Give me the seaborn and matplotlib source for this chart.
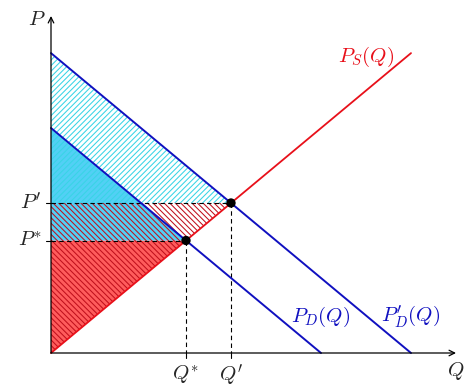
import matplotlib
matplotlib.use("Agg")
import matplotlib.pyplot as plt
import seaborn as sns
import pandas as pd

sns.set_style("white")
plt.rcParams["mathtext.fontset"] = "cm"
plt.rcParams["hatch.linewidth"] = 0.75

# ---- data ----
q_supply = [0.0, 10.0]
p_supply = [0.0, 8.33]
q_demand = [0.0, 7.5]
p_demand = [6.25, 0.0]
q_demand2 = [0.0, 10.0]
p_demand2 = [8.33, 0.0]
q_eq = [3.75, 5.0]      # Q*, Q'
p_eq = [3.125, 4.167]   # P*, P'
q_labels = [r"$Q^{*}$", r"$Q'$"]
p_labels = [r"$P^{*}$", r"$P'$"]
curve_labels = [r"$P_S(Q)$", r"$P_D(Q)$", r"$P^{\prime}_{D}(Q)$"]

BLUE = "#1010c0"
RED = "#e8101a"
CYAN_FILL = "#52d0f5"
RED_FILL = "#ff5c5c"

fig = plt.figure(figsize=(4.72, 3.92), dpi=100)
ax = fig.add_axes([0, 0, 1, 1])
px = 36.0
ax.set_xlim(-51 / px, (472 - 51) / px)
ax.set_ylim(-(392 - 353) / px, 353 / px)
ax.axis("off")

# surplus regions
ax.fill([0, q_eq[0], 0], [0, p_eq[0], p_eq[0]], color=RED_FILL, lw=0, zorder=1)
ax.fill([0, q_eq[0], 0], [p_demand[0], p_eq[0], p_eq[0]], color=CYAN_FILL, lw=0, zorder=1)
ax.fill([0, q_eq[1], 0], [p_demand2[0], p_eq[1], p_eq[1]], facecolor="none",
        edgecolor="#38d4e6", hatch="//////", lw=0, zorder=2)
ax.fill([0, q_eq[1], 0], [0, p_eq[1], p_eq[1]], facecolor="none",
        edgecolor="#c0101c", hatch="\\\\\\\\\\\\", lw=0, zorder=2)

# dashed guide lines
for q, p in zip(q_eq, p_eq):
    ax.plot([0, q], [p, p], ls=(0, (4, 3)), color="black", lw=0.8, zorder=3)
    ax.plot([q, q], [p, 0], ls=(0, (4, 3)), color="black", lw=0.8, zorder=3)
    ax.plot([q, q], [0, -5 / px], color="black", lw=0.8, zorder=3)
    ax.plot([-5 / px, 0], [p, p], color="black", lw=0.8, zorder=3)

# curves
df_s = pd.DataFrame({"Q": q_supply, "P": p_supply})
df_d = pd.DataFrame({"Q": q_demand, "P": p_demand})
df_d2 = pd.DataFrame({"Q": q_demand2, "P": p_demand2})
sns.lineplot(data=df_s, x="Q", y="P", ax=ax, color=RED, lw=1.3, zorder=4)
sns.lineplot(data=df_d, x="Q", y="P", ax=ax, color=BLUE, lw=1.4, zorder=4)
sns.lineplot(data=df_d2, x="Q", y="P", ax=ax, color=BLUE, lw=1.4, zorder=4)

# equilibrium points
df_eq = pd.DataFrame({"Q": q_eq, "P": p_eq})
sns.scatterplot(data=df_eq, x="Q", y="P", ax=ax, color="black", s=45,
                edgecolor="none", zorder=5)

# axes with arrows
ax.annotate("", xy=((456 - 51) / px, 0), xytext=(0, 0),
            arrowprops=dict(arrowstyle="->", lw=0.9, color="black",
                            shrinkA=0, shrinkB=0), zorder=6)
ax.annotate("", xy=(0, (353 - 16) / px), xytext=(0, 0),
            arrowprops=dict(arrowstyle="->", lw=0.9, color="black",
                            shrinkA=0, shrinkB=0), zorder=6)

fs = 15
ax.text((37 - 51) / px, (353 - 19) / px, r"$P$", fontsize=fs, ha="center", va="center")
ax.text((456 - 51) / px, (353 - 371) / px, r"$Q$", fontsize=fs, ha="center", va="center")
for q, lab in zip(q_eq, q_labels):
    ax.text(q, (353 - 375) / px, lab, fontsize=fs, ha="center", va="center")
for p, lab in zip(p_eq, p_labels):
    ax.text((42 - 51) / px, p, lab, fontsize=fs, ha="right", va="center")

ax.text((366 - 51) / px, (353 - 57) / px, curve_labels[0], fontsize=fs, color=RED,
        ha="center", va="center")
ax.text((321 - 51) / px, (353 - 317) / px, curve_labels[1], fontsize=fs, color=BLUE,
        ha="center", va="center")
ax.text((411 - 51) / px, (353 - 317) / px, curve_labels[2], fontsize=fs, color=BLUE,
        ha="center", va="center")

fig.savefig("out.png", dpi=100)
